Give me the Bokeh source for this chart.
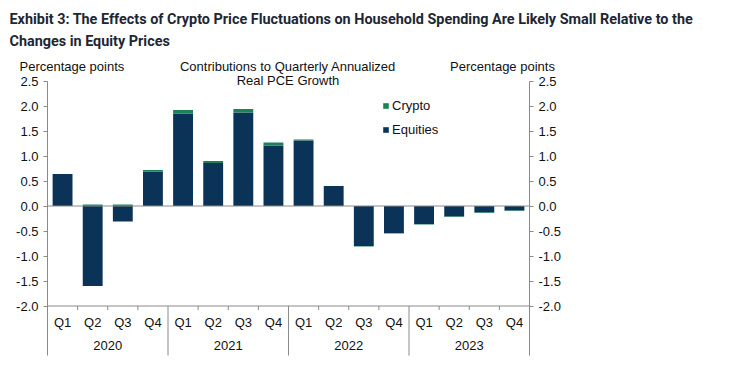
from bokeh.plotting import figure
from bokeh.models import (Range1d, LinearAxis, FixedTicker, PrintfTickFormatter,
                          Label, Legend, LegendItem, ColumnDataSource)
from bokeh.embed import file_html
from bokeh.resources import INLINE
from bokeh.core.properties import value

# ---- data ----
years = ["2020"] * 4 + ["2021"] * 4 + ["2022"] * 4 + ["2023"] * 4
quarters = ["Q1", "Q2", "Q3", "Q4"] * 4
equities = [0.64, -1.60, -0.31, 0.69, 1.85, 0.86, 1.87, 1.21, 1.31, 0.40, -0.80, -0.54, -0.36, -0.21, -0.13, -0.09]
crypto = [0.0, 0.03, 0.03, 0.03, 0.07, 0.04, 0.07, 0.06, 0.02, 0.0, -0.01, -0.01, -0.01, -0.01, -0.01, -0.01]
y_ticks = [-2.0, -1.5, -1.0, -0.5, 0.0, 0.5, 1.0, 1.5, 2.0, 2.5]

title1 = "Exhibit 3: The Effects of Crypto Price Fluctuations on Household Spending Are Likely Small Relative to the"
title2 = "Changes in Equity Prices"
axis_label = "Percentage points"
center_title1 = "Contributions to Quarterly Annualized"
center_title2 = "Real PCE Growth"

NAVY = "#0b3358"
GREEN = "#1b8258"
GREY = "#8a8a8a"
TXT = "#111111"
FONT = "Liberation Sans"

W, H = 730, 365
n = len(quarters)
# geometry: plot box 47..529 px horizontally, value 0 at 205.5 px, 50 px per unit
px_per_cat = (529 - 47) / n
x_start = -47 / px_per_cat
x_end = n + (W - 529) / px_per_cat
y_end = 205.5 / 50
y_start = -(H - 205.5) / 50
y_bottom = -2.0 - (355 - 305.5) / 50   # bottom of axis frame lines

p = figure(width=W, height=H, output_backend="svg", toolbar_location=None,
           x_range=Range1d(x_start, x_end), y_range=Range1d(y_start, y_end),
           x_axis_location=None, y_axis_location=None, min_border=0)
p.outline_line_color = None
p.xgrid.visible = False
p.ygrid.visible = False
p.background_fill_color = "white"
p.border_fill_color = "white"

for side, loc in (("left", 0), ("right", n)):
    ax = LinearAxis(ticker=FixedTicker(ticks=y_ticks),
                    formatter=PrintfTickFormatter(format="%.1f"),
                    fixed_location=loc, bounds=(y_bottom, y_ticks[-1]))
    ax.axis_line_color = GREY
    ax.major_tick_line_color = GREY
    ax.major_tick_out = 4
    ax.major_tick_in = 0
    ax.minor_tick_line_color = None
    ax.major_label_text_font = FONT
    ax.major_label_text_font_size = "13px"
    ax.major_label_text_color = TXT
    ax.major_label_standoff = 5
    p.add_layout(ax, side)

# bar positions from categories
xc = [i + 0.5 for i in range(n)]

eq_bottom = [min(0, e) for e in equities]
eq_top = [max(0, e) for e in equities]
cr_bottom, cr_top = [], []
for e, c in zip(equities, crypto):
    b = max(e, 0) if c >= 0 else min(e, 0)
    cr_bottom.append(b)
    cr_top.append(b + c)

src = ColumnDataSource(dict(x=xc, eb=eq_bottom, et=eq_top, cb=cr_bottom, ct=cr_top))
r_eq = p.vbar(x="x", bottom="eb", top="et", width=0.66, source=src, fill_color=NAVY, line_color=None)
r_cr = p.vbar(x="x", bottom="cb", top="ct", width=0.66, source=src, fill_color=GREEN, line_color=None)

# zero line and category axis line
p.segment(x0=[0, 0], x1=[n, n], y0=[0, -2.0], y1=[0, -2.0], line_color=GREY, line_width=1)

# category separators / ticks
sep_x, tick_x = [], []
for i in range(1, n):
    if years[i] != years[i - 1]:
        sep_x.append(i)
    else:
        tick_x.append(i)
p.segment(x0=sep_x, x1=sep_x, y0=[-2.0] * len(sep_x), y1=[y_bottom] * len(sep_x), line_color=GREY, line_width=1)
p.segment(x0=tick_x, x1=tick_x, y0=[-2.0] * len(tick_x), y1=[-2.08] * len(tick_x), line_color=GREY, line_width=1)

p.text(x=xc, y=[-2.33] * n, text=quarters, text_align="center", text_baseline="middle",
       text_font=value(FONT), text_font_size="13px", text_color=TXT)

year_labels = []
year_x = []
for yv in years:
    if yv not in year_labels:
        year_labels.append(yv)
for yv in year_labels:
    idx = [i for i in range(n) if years[i] == yv]
    year_x.append(sum(xc[i] for i in idx) / len(idx))
p.text(x=year_x, y=[-2.79] * len(year_labels), text=year_labels, text_align="center", text_baseline="middle",
       text_font=value(FONT), text_font_size="13px", text_color=TXT)

# legend
legend = Legend(items=[LegendItem(label="Crypto", renderers=[r_cr]),
                       LegendItem(label="Equities", renderers=[r_eq])],
                location=(382, 226), orientation="vertical")
legend.background_fill_alpha = 0
legend.border_line_color = None
legend.padding = 0
legend.margin = 0
legend.spacing = 4
legend.glyph_width = 7
legend.glyph_height = 7
legend.label_height = 20
legend.label_standoff = 3
legend.label_text_font = FONT
legend.label_text_font_size = "13px"
legend.label_text_color = TXT
p.add_layout(legend)


def add_label(text, X, Y, align="left", size="13px", font=FONT, style="normal", color=TXT):
    p.add_layout(Label(x=X, y=H - Y, x_units="screen", y_units="screen", text=text,
                       text_align=align, text_baseline="alphabetic", text_font=font,
                       text_font_size=size, text_font_style=style, text_color=color))


add_label(title1, 9, 19, size="14.4px", font="Roboto", style="bold", color="#1c2733")
add_label(title2, 9, 41, size="14.4px", font="Roboto", style="bold", color="#1c2733")
add_label(axis_label, 19, 66)
add_label(axis_label, 502, 66, align="center")
add_label(center_title1, 287.5, 66, align="center")
add_label(center_title2, 287.5, 80, align="center")

open("out.html", "w").write(file_html(p, INLINE))
